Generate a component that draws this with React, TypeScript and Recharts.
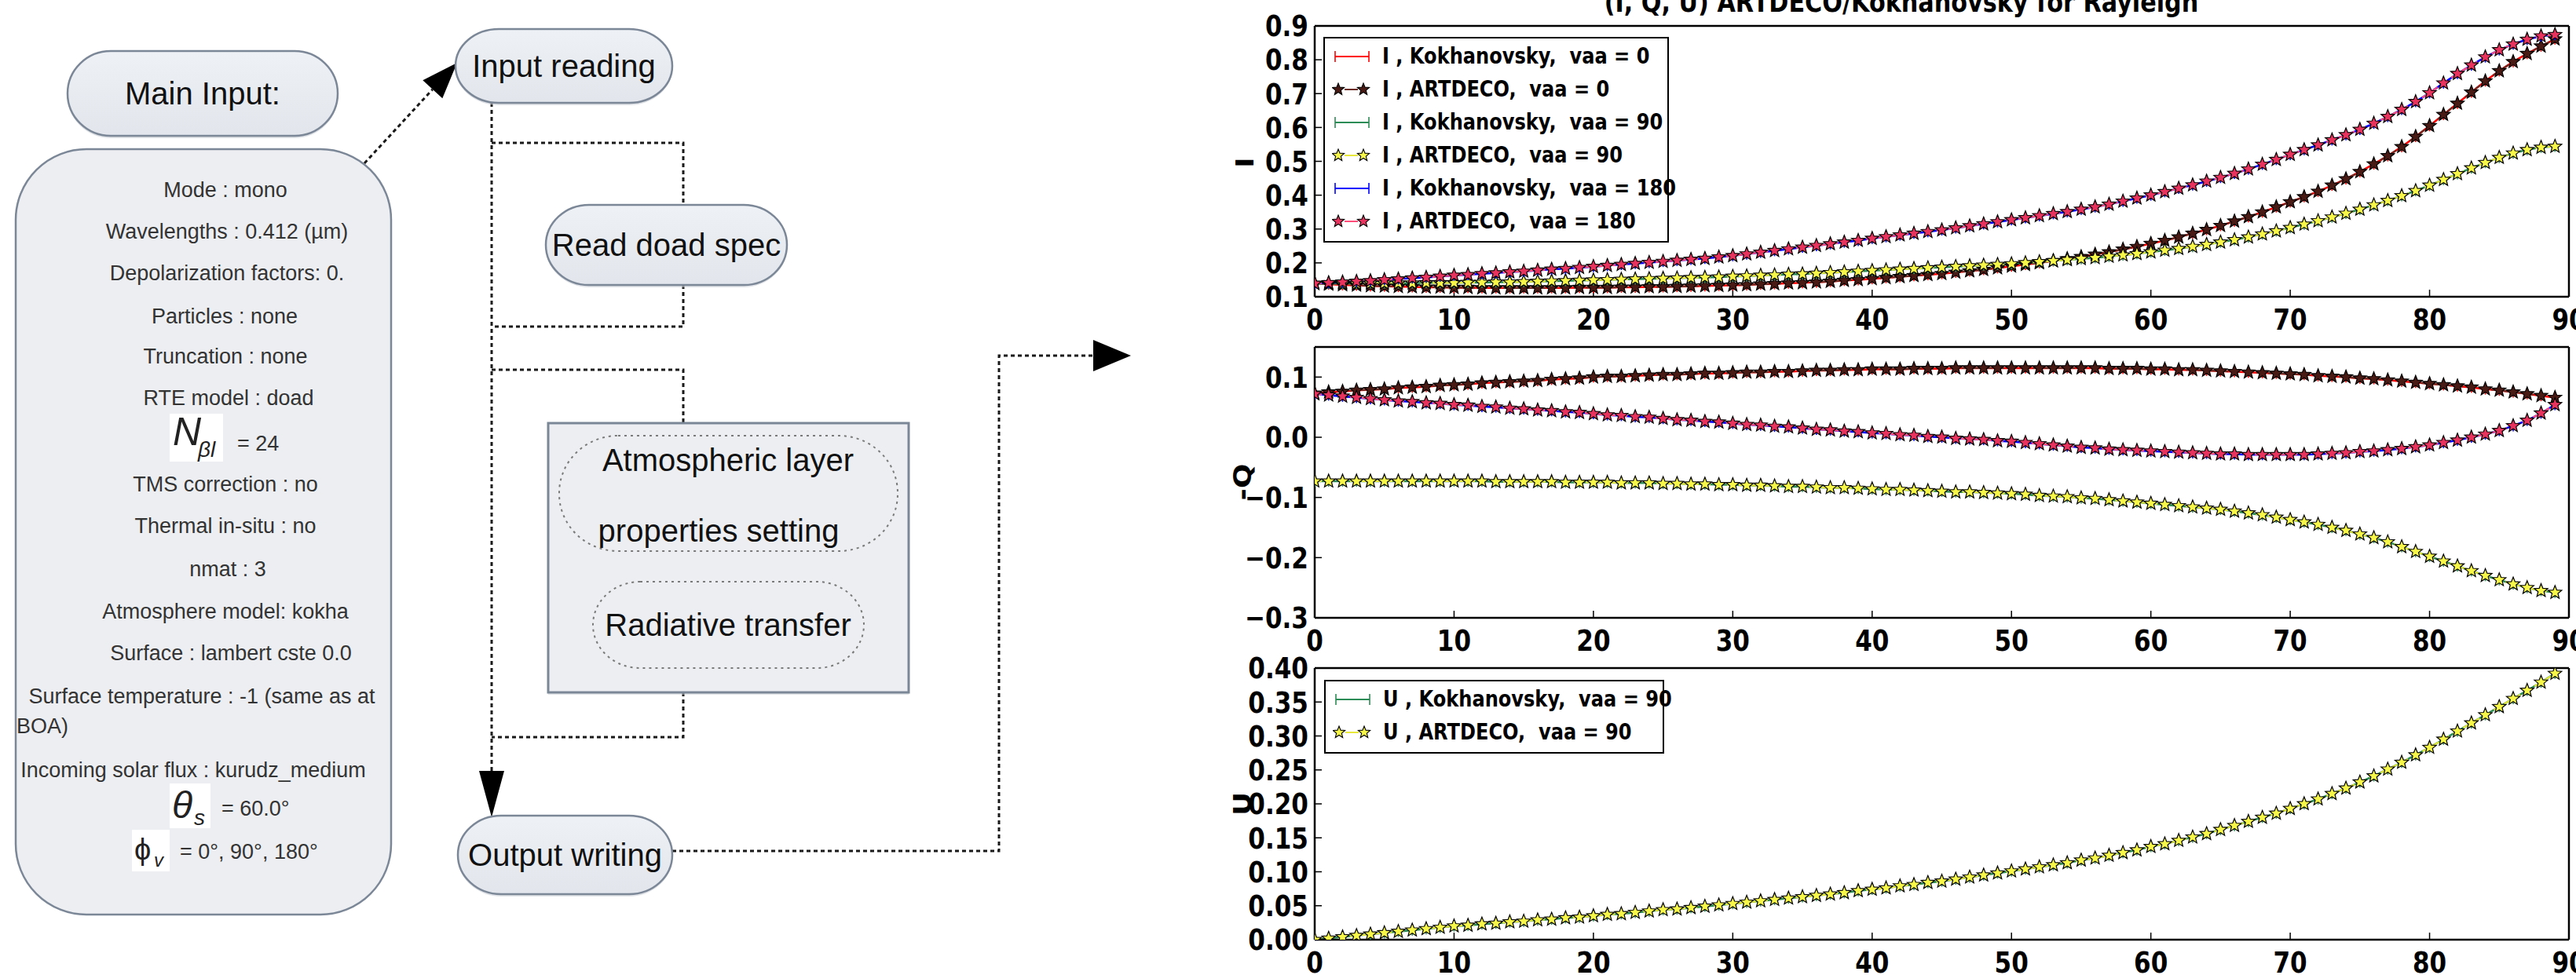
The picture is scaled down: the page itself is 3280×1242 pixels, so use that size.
import React from "react";
import { LineChart, Line, XAxis, YAxis } from "recharts";

// viewing azimuth scan, one point per degree
const ANGLES = [
  0, 1, 2, 3, 4, 5, 6, 7, 8, 9, 10, 11, 12, 13, 14, 15, 16, 17, 18, 19, 20, 21, 22, 23, 24, 25, 26, 27, 28, 29,
  30, 31, 32, 33, 34, 35, 36, 37, 38, 39, 40, 41, 42, 43, 44, 45, 46, 47, 48, 49, 50, 51, 52, 53, 54, 55, 56, 57, 58, 59,
  60, 61, 62, 63, 64, 65, 66, 67, 68, 69, 70, 71, 72, 73, 74, 75, 76, 77, 78, 79, 80, 81, 82, 83, 84, 85, 86, 87, 88, 89,
];

// Kokhanovsky and ARTDECO curves sit on top of each other in the figure, so one reading serves both
const I_VAA0 = [
  0.139, 0.137, 0.135, 0.134, 0.132, 0.131, 0.13, 0.129, 0.128, 0.128,
  0.127, 0.127, 0.126, 0.126, 0.126, 0.126, 0.126, 0.126, 0.126, 0.127,
  0.127, 0.127, 0.128, 0.128, 0.129, 0.129, 0.13, 0.131, 0.132, 0.133,
  0.134, 0.135, 0.137, 0.138, 0.14, 0.141, 0.143, 0.145, 0.148, 0.15,
  0.153, 0.156, 0.159, 0.162, 0.165, 0.168, 0.172, 0.176, 0.18, 0.185,
  0.19, 0.195, 0.2, 0.206, 0.212, 0.218, 0.225, 0.232, 0.24, 0.248,
  0.257, 0.266, 0.276, 0.287, 0.298, 0.31, 0.323, 0.336, 0.35, 0.365,
  0.38, 0.395, 0.411, 0.429, 0.448, 0.469, 0.492, 0.516, 0.543, 0.573,
  0.605, 0.638, 0.671, 0.704, 0.737, 0.767, 0.794, 0.818, 0.84, 0.861,
];
const I_VAA90 = [
  0.139, 0.139, 0.139, 0.139, 0.14, 0.14, 0.14, 0.14, 0.141, 0.141,
  0.141, 0.142, 0.142, 0.143, 0.143, 0.144, 0.145, 0.146, 0.147, 0.148,
  0.149, 0.15, 0.151, 0.152, 0.153, 0.154, 0.155, 0.156, 0.157, 0.158,
  0.16, 0.161, 0.163, 0.164, 0.166, 0.167, 0.169, 0.171, 0.173, 0.175,
  0.177, 0.179, 0.181, 0.183, 0.185, 0.187, 0.189, 0.191, 0.193, 0.195,
  0.197, 0.2, 0.203, 0.206, 0.209, 0.212, 0.215, 0.219, 0.223, 0.227,
  0.232, 0.237, 0.242, 0.248, 0.254, 0.261, 0.268, 0.276, 0.285, 0.294,
  0.304, 0.314, 0.324, 0.335, 0.346, 0.358, 0.371, 0.384, 0.398, 0.413,
  0.429, 0.446, 0.463, 0.48, 0.496, 0.511, 0.524, 0.534, 0.541, 0.544,
];
const I_VAA180 = [
  0.139, 0.141, 0.143, 0.145, 0.147, 0.15, 0.152, 0.155, 0.157, 0.16,
  0.163, 0.165, 0.168, 0.17, 0.173, 0.175, 0.178, 0.181, 0.183, 0.186,
  0.189, 0.192, 0.195, 0.198, 0.201, 0.204, 0.207, 0.21, 0.213, 0.217,
  0.221, 0.226, 0.231, 0.236, 0.241, 0.246, 0.251, 0.256, 0.261, 0.266,
  0.272, 0.277, 0.282, 0.287, 0.292, 0.297, 0.303, 0.309, 0.315, 0.321,
  0.327, 0.333, 0.339, 0.345, 0.351, 0.358, 0.365, 0.373, 0.382, 0.391,
  0.4, 0.41, 0.42, 0.43, 0.441, 0.452, 0.464, 0.477, 0.491, 0.505,
  0.52, 0.534, 0.548, 0.563, 0.578, 0.594, 0.612, 0.632, 0.653, 0.676,
  0.702, 0.731, 0.759, 0.784, 0.808, 0.829, 0.846, 0.86, 0.87, 0.874,
];

// middle panel shows -Q
const NEG_Q_VAA0 = [
  0.073, 0.075, 0.076, 0.078, 0.079, 0.08, 0.082, 0.083, 0.084, 0.086,
  0.087, 0.088, 0.09, 0.091, 0.092, 0.093, 0.094, 0.096, 0.097, 0.098,
  0.1, 0.101, 0.101, 0.102, 0.103, 0.104, 0.104, 0.105, 0.106, 0.106,
  0.107, 0.108, 0.108, 0.109, 0.109, 0.11, 0.111, 0.111, 0.112, 0.112,
  0.113, 0.113, 0.113, 0.114, 0.114, 0.114, 0.115, 0.115, 0.115, 0.115,
  0.115, 0.115, 0.115, 0.115, 0.115, 0.115, 0.115, 0.114, 0.114, 0.114,
  0.113, 0.113, 0.112, 0.112, 0.111, 0.11, 0.109, 0.108, 0.107, 0.106,
  0.105, 0.104, 0.102, 0.101, 0.1, 0.098, 0.097, 0.095, 0.093, 0.091,
  0.089, 0.087, 0.085, 0.083, 0.08, 0.078, 0.075, 0.072, 0.069, 0.066,
];
const NEG_Q_VAA90 = [
  -0.073, -0.073, -0.073, -0.073, -0.073, -0.073, -0.073, -0.073, -0.073, -0.073,
  -0.073, -0.073, -0.073, -0.074, -0.074, -0.074, -0.074, -0.074, -0.075, -0.075,
  -0.075, -0.075, -0.076, -0.076, -0.076, -0.077, -0.077, -0.078, -0.078, -0.079,
  -0.079, -0.08, -0.08, -0.081, -0.082, -0.082, -0.083, -0.084, -0.084, -0.085,
  -0.086, -0.087, -0.087, -0.088, -0.089, -0.09, -0.091, -0.091, -0.092, -0.093,
  -0.094, -0.095, -0.097, -0.098, -0.099, -0.101, -0.102, -0.104, -0.106, -0.108,
  -0.11, -0.112, -0.114, -0.116, -0.118, -0.12, -0.123, -0.126, -0.129, -0.133,
  -0.137, -0.141, -0.145, -0.15, -0.155, -0.161, -0.167, -0.174, -0.182, -0.19,
  -0.198, -0.206, -0.214, -0.222, -0.23, -0.237, -0.244, -0.25, -0.255, -0.258,
];
const NEG_Q_VAA180 = [
  0.072, 0.07, 0.068, 0.066, 0.064, 0.062, 0.06, 0.059, 0.057, 0.056,
  0.054, 0.053, 0.051, 0.05, 0.048, 0.047, 0.045, 0.044, 0.042, 0.041,
  0.039, 0.037, 0.036, 0.034, 0.033, 0.031, 0.029, 0.028, 0.026, 0.025,
  0.023, 0.021, 0.02, 0.018, 0.017, 0.015, 0.013, 0.012, 0.01, 0.009,
  0.007, 0.006, 0.004, 0.003, 0.001, 0.0, -0.002, -0.003, -0.004, -0.006,
  -0.007, -0.009, -0.011, -0.013, -0.015, -0.017, -0.018, -0.02, -0.021, -0.022,
  -0.023, -0.024, -0.025, -0.026, -0.027, -0.028, -0.028, -0.029, -0.029, -0.029,
  -0.029, -0.029, -0.028, -0.027, -0.026, -0.024, -0.023, -0.021, -0.019, -0.016,
  -0.013, -0.009, -0.005, 0.0, 0.005, 0.011, 0.019, 0.028, 0.04, 0.054,
];
const U_VAA90 = [
  0.0, 0.002, 0.004, 0.006, 0.008, 0.01, 0.012, 0.014, 0.016, 0.018,
  0.02, 0.021, 0.023, 0.024, 0.026, 0.027, 0.029, 0.03, 0.032, 0.033,
  0.035, 0.037, 0.038, 0.04, 0.042, 0.044, 0.045, 0.047, 0.049, 0.051,
  0.053, 0.055, 0.057, 0.059, 0.061, 0.063, 0.065, 0.067, 0.069, 0.072,
  0.074, 0.076, 0.079, 0.081, 0.084, 0.086, 0.089, 0.092, 0.095, 0.098,
  0.101, 0.104, 0.107, 0.11, 0.113, 0.117, 0.12, 0.124, 0.128, 0.132,
  0.137, 0.141, 0.146, 0.151, 0.156, 0.162, 0.168, 0.174, 0.18, 0.186,
  0.193, 0.2, 0.207, 0.215, 0.223, 0.232, 0.241, 0.251, 0.261, 0.272,
  0.283, 0.295, 0.307, 0.319, 0.331, 0.343, 0.355, 0.367, 0.379, 0.392,
];

const X_TICKS = [0, 10, 20, 30, 40, 50, 60, 70, 80, 90];
const I_TICKS = [0.1, 0.2, 0.3, 0.4, 0.5, 0.6, 0.7, 0.8, 0.9];
const Q_TICKS = [-0.3, -0.2, -0.1, 0, 0.1];
const U_TICKS = [0, 0.05, 0.1, 0.15, 0.2, 0.25, 0.3, 0.35, 0.4];

const TITLE = "(I, Q, U)  ARTDECO/Kokhanovsky for Rayleigh";

const iRows = ANGLES.map((a, i) => ({
  angle: a,
  k0: I_VAA0[i], a0: I_VAA0[i],
  k90: I_VAA90[i], a90: I_VAA90[i],
  k180: I_VAA180[i], a180: I_VAA180[i],
}));
const qRows = ANGLES.map((a, i) => ({
  angle: a,
  k0: NEG_Q_VAA0[i], a0: NEG_Q_VAA0[i],
  k90: NEG_Q_VAA90[i], a90: NEG_Q_VAA90[i],
  k180: NEG_Q_VAA180[i], a180: NEG_Q_VAA180[i],
}));
const uRows = ANGLES.map((a, i) => ({ angle: a, k90: U_VAA90[i], a90: U_VAA90[i] }));

const RED = "#ff0000";
const GREEN = "#2b8c55";
const BLUE = "#0000ff";
const BROWN = { line: "#6b2a22", fill: "#4a1a14" };
const YELLOW = { line: "#e8e83a", fill: "#f7f74a" };
const PINK = { line: "#ff4d7a", fill: "#e8335e" };

type S = { key: string; kind: "k" | "a"; color: string; fill?: string; label: string };

const I_SERIES: S[] = [
  { key: "k0", kind: "k", color: RED, label: "I , Kokhanovsky,  vaa = 0" },
  { key: "a0", kind: "a", color: BROWN.line, fill: BROWN.fill, label: "I , ARTDECO,  vaa = 0" },
  { key: "k90", kind: "k", color: GREEN, label: "I , Kokhanovsky,  vaa = 90" },
  { key: "a90", kind: "a", color: YELLOW.line, fill: YELLOW.fill, label: "I , ARTDECO,  vaa = 90" },
  { key: "k180", kind: "k", color: BLUE, label: "I , Kokhanovsky,  vaa = 180" },
  { key: "a180", kind: "a", color: PINK.line, fill: PINK.fill, label: "I , ARTDECO,  vaa = 180" },
];
const Q_SERIES: S[] = I_SERIES.map((s) => ({ ...s, label: s.label.replace("I ,", "Q ,") }));
const U_SERIES: S[] = [
  { key: "k90", kind: "k", color: GREEN, label: "U , Kokhanovsky,  vaa = 90" },
  { key: "a90", kind: "a", color: YELLOW.line, fill: YELLOW.fill, label: "U , ARTDECO,  vaa = 90" },
];

const PLOT_FONT = "'DejaVu Sans', 'Bitstream Vera Sans', sans-serif";
const FLOW_FONT = "'Liberation Sans', Arial, sans-serif";
const SQ = 0.84; // the figure was squeezed horizontally
const STAR_R = 9;
const STAR_r = 3.9;

function starPath(cx: number, cy: number, R: number, r: number) {
  const pts: string[] = [];
  for (let k = 0; k < 10; k++) {
    const rad = k % 2 === 0 ? R : r;
    const a = -Math.PI / 2 + (k * Math.PI) / 5;
    pts.push(`${(cx + rad * Math.cos(a)).toFixed(2)},${(cy + rad * Math.sin(a)).toFixed(2)}`);
  }
  return `M${pts.join("L")}Z`;
}

const starDot = (fill: string) => (p: any) =>
  p.cx == null ? <g key={p.index} /> : (
    <path key={p.index} d={starPath(p.cx, p.cy, STAR_R, STAR_r)} fill={fill} stroke="#000" strokeWidth={1.2} />
  );

const barDot = (color: string) => (p: any) =>
  p.cx == null ? <g key={p.index} /> : (
    <line key={p.index} x1={p.cx} x2={p.cx} y1={p.cy - 7} y2={p.cy + 7} stroke={color} strokeWidth={1.6} />
  );

const yTick = (fmt: (v: number) => string) => (p: any) => (
  <text
    transform={`translate(${p.x},${p.y}) scale(${SQ},1)`}
    textAnchor="end"
    dy="0.36em"
    fontFamily={PLOT_FONT}
    fontWeight="bold"
    fontSize={37}
    fill="#000"
  >
    {fmt(p.payload.value)}
  </text>
);

const xTick = (p: any) => (
  <text
    transform={`translate(${p.x},${p.y + 42}) scale(${SQ},1)`}
    textAnchor="middle"
    fontFamily={PLOT_FONT}
    fontWeight="bold"
    fontSize={37}
    fill="#000"
  >
    {p.payload.value}
  </text>
);

const AXIS_LINE = { stroke: "#000", strokeWidth: 2.5 };
const TICK_LINE = { stroke: "#000", strokeWidth: 1.5 };

function Panel(props: {
  rows: any[];
  series: S[];
  domain: [number, number];
  ticks: number[];
  fmt: (v: number) => string;
  top: number;
  height: number;
  margin: { top: number; right: number; bottom: number; left: number };
  xHeight: number;
}) {
  const { rows, series, domain, ticks, fmt, top, height, margin, xHeight } = props;
  return (
    <div style={{ position: "absolute", left: 1500, top, width: 1780, height }}>
      <LineChart width={1780} height={height} data={rows} margin={margin}>
        <XAxis
          xAxisId="b"
          dataKey="angle"
          type="number"
          domain={[0, 90]}
          ticks={X_TICKS}
          interval={0}
          allowDataOverflow
          height={xHeight}
          tickSize={-9}
          tickMargin={9}
          axisLine={AXIS_LINE}
          tickLine={TICK_LINE}
          tick={xTick}
        />
        <XAxis
          xAxisId="t"
          orientation="top"
          type="number"
          domain={[0, 90]}
          ticks={X_TICKS}
          interval={0}
          allowDataOverflow
          height={1}
          tickSize={-9}
          axisLine={AXIS_LINE}
          tickLine={TICK_LINE}
          tick={false}
        />
        <YAxis
          yAxisId="l"
          type="number"
          domain={domain}
          ticks={ticks}
          interval={0}
          allowDataOverflow
          width={166}
          tickSize={-9}
          tickMargin={17}
          axisLine={AXIS_LINE}
          tickLine={TICK_LINE}
          tick={yTick(fmt)}
        />
        <YAxis
          yAxisId="r"
          orientation="right"
          type="number"
          domain={domain}
          ticks={ticks}
          interval={0}
          allowDataOverflow
          width={1}
          tickSize={-9}
          axisLine={AXIS_LINE}
          tickLine={TICK_LINE}
          tick={false}
        />
        {series.map((s) => (
          <Line
            key={s.key}
            xAxisId="b"
            yAxisId="l"
            type="linear"
            dataKey={s.key}
            stroke={s.color}
            strokeWidth={s.kind === "a" ? 2.2 : 2.6}
            strokeDasharray={s.kind === "a" ? "9 6" : undefined}
            dot={s.kind === "a" ? starDot(s.fill as string) : barDot(s.color)}
            activeDot={false}
            isAnimationActive={false}
          />
        ))}
      </LineChart>
    </div>
  );
}

function Handle({ s }: { s: S }) {
  return (
    <svg width={52} height={22} style={{ position: "absolute", left: 9, top: 10 }}>
      {s.kind === "k" ? (
        <g stroke={s.color}>
          <line x1={4} x2={47} y1={11} y2={11} strokeWidth={2} />
          <line x1={4} x2={4} y1={4} y2={18} strokeWidth={1.6} />
          <line x1={47} x2={47} y1={4} y2={18} strokeWidth={1.6} />
        </g>
      ) : (
        <g>
          <line x1={16} x2={33} y1={11} y2={11} stroke={s.color} strokeWidth={2} />
          <path d={starPath(8, 11, STAR_R - 1, STAR_r - 0.4)} fill={s.fill} stroke="#000" strokeWidth={1.1} />
          <path d={starPath(40, 11, STAR_R - 1, STAR_r - 0.4)} fill={s.fill} stroke="#000" strokeWidth={1.1} />
        </g>
      )}
    </svg>
  );
}

function Legend({ series, left, top, width }: { series: S[]; left: number; top: number; width: number }) {
  return (
    <div
      style={{
        position: "absolute",
        left,
        top,
        width,
        height: series.length * 42 + 10,
        boxSizing: "border-box",
        border: "2px solid #000",
        background: "#fff",
      }}
    >
      {series.map((s, i) => (
        <div key={s.key} style={{ position: "absolute", left: 0, top: 2 + i * 42, height: 42, width: "100%" }}>
          <Handle s={s} />
          <span
            style={{
              position: "absolute",
              left: 73,
              top: 0,
              lineHeight: "42px",
              fontFamily: PLOT_FONT,
              fontWeight: "bold",
              fontSize: 28,
              whiteSpace: "pre",
              transform: `scaleX(${SQ + 0.02})`,
              transformOrigin: "left center",
              color: "#000",
            }}
          >
            {s.label}
          </span>
        </div>
      ))}
    </div>
  );
}

function Arrow({ from, tip, len, half }: { from: [number, number]; tip: [number, number]; len: number; half: number }) {
  const dx = tip[0] - from[0];
  const dy = tip[1] - from[1];
  const d = Math.hypot(dx, dy);
  const ux = dx / d;
  const uy = dy / d;
  const bx = tip[0] - ux * len;
  const by = tip[1] - uy * len;
  const pts = [
    [tip[0], tip[1]],
    [bx - uy * half, by + ux * half],
    [bx + uy * half, by - ux * half],
  ];
  return (
    <g>
      <line x1={from[0]} y1={from[1]} x2={bx} y2={by} stroke="#1a1a1a" strokeWidth={3} strokeDasharray="5 4" />
      <polygon points={pts.map((p) => p.join(",")).join(" ")} fill="#000" />
    </g>
  );
}

const INPUT_LINES: { t: string; x: number; y: number; anchor?: "start" | "middle" }[] = [
  { t: "Mode : mono", x: 287, y: 251 },
  { t: "Wavelengths : 0.412 (µm)", x: 289, y: 304 },
  { t: "Depolarization factors: 0.", x: 289, y: 357 },
  { t: "Particles : none", x: 286, y: 412 },
  { t: "Truncation : none", x: 287, y: 463 },
  { t: "RTE model : doad", x: 291, y: 516 },
  { t: "TMS correction : no", x: 287, y: 626 },
  { t: "Thermal in-situ : no", x: 287, y: 679 },
  { t: "nmat : 3", x: 290, y: 734 },
  { t: "Atmosphere model:  kokha", x: 287, y: 788 },
  { t: "Surface : lambert cste 0.0", x: 294, y: 841 },
  { t: "Surface temperature : -1 (same as at", x: 257, y: 896 },
  { t: "BOA)", x: 21, y: 934, anchor: "start" },
  { t: "Incoming solar flux : kurudz_medium", x: 246, y: 990 },
];

function Pill({ x, y, w, h, label }: { x: number; y: number; w: number; h: number; label: string }) {
  return (
    <g>
      <rect x={x} y={y + 3} width={w} height={h} rx={55} ry={h / 2} fill="#c9ced6" opacity={0.6} />
      <rect x={x} y={y} width={w} height={h} rx={55} ry={h / 2} fill="url(#pillFill)" stroke="#7b8797" strokeWidth={2.5} />
      <text x={x + w / 2} y={y + h / 2 + 14} textAnchor="middle" fontFamily={FLOW_FONT} fontSize={40} fill="#111">
        {label}
      </text>
    </g>
  );
}

const DOT = { stroke: "#1a1a1a", strokeWidth: 3, strokeDasharray: "5 4", fill: "none" };

function Flowchart() {
  return (
    <svg width={1500} height={1242} style={{ position: "absolute", left: 0, top: 0 }}>
      <defs>
        <linearGradient id="pillFill" x1="0" y1="0" x2="0" y2="1">
          <stop offset="0" stopColor="#eef1f5" />
          <stop offset="1" stopColor="#e2e6ec" />
        </linearGradient>
      </defs>

      {/* main input block */}
      <Pill x={86} y={65} w={344} h={108} label="Main Input:" />
      <rect x={20} y={190} width={478} height={975} rx={90} ry={90} fill="#eceef1" stroke="#7b8797" strokeWidth={2.5} />
      {INPUT_LINES.map((l) => (
        <text key={l.t} x={l.x} y={l.y} textAnchor={l.anchor || "middle"} fontFamily={FLOW_FONT} fontSize={27} fill="#333">
          {l.t}
        </text>
      ))}
      <rect x={216} y={527} width={68} height={61} fill="#fff" />
      <text x={220} y={567} fontFamily={FLOW_FONT} fontStyle="italic" fontSize={50} fill="#222">N</text>
      <text x={252} y={582} fontFamily={FLOW_FONT} fontStyle="italic" fontSize={28} fill="#222">βl</text>
      <text x={302} y={574} fontFamily={FLOW_FONT} fontSize={27} fill="#333">{"=  24"}</text>
      <rect x={216} y={998} width={52} height={57} fill="#fff" />
      <text x={219} y={1042} fontFamily={FLOW_FONT} fontStyle="italic" fontSize={48} fill="#222">θ</text>
      <text x={247} y={1051} fontFamily={FLOW_FONT} fontStyle="italic" fontSize={28} fill="#222">s</text>
      <text x={282} y={1039} fontFamily={FLOW_FONT} fontSize={27} fill="#333">= 60.0°</text>
      <rect x={168} y={1057} width={48} height={53} fill="#fff" />
      <text x={171} y={1095} fontFamily={FLOW_FONT} fontSize={38} fill="#222">ϕ</text>
      <text x={196} y={1104} fontFamily={FLOW_FONT} fontStyle="italic" fontSize={24} fill="#222">v</text>
      <text x={229} y={1094} fontFamily={FLOW_FONT} fontSize={27} fill="#333">{"=  0°, 90°, 180°"}</text>

      {/* connectors */}
      <Arrow from={[464, 208]} tip={[582, 80]} len={46} half={17} />
      <path d="M626 131 V984" {...DOT} />
      <polygon points="610,982 642,982 626,1041" fill="#000" />
      <path d="M626 182 H870 V261" {...DOT} />
      <path d="M870 363 V416 H626" {...DOT} />
      <path d="M626 471 H870 V539" {...DOT} />
      <path d="M870 882 V939 H626" {...DOT} />
      <path d="M856 1084 H1272 V453 H1392" {...DOT} />
      <polygon points="1392,433 1392,473 1440,453" fill="#000" />

      {/* steps */}
      <Pill x={580} y={37} w={276} h={94} label="Input reading" />
      <Pill x={695} y={261} w={307} h={102} label="Read doad spec" />
      <rect x={698} y={542} width={459} height={343} fill="#c9ced6" opacity={0.5} />
      <rect x={698} y={539} width={459} height={343} fill="#eceef1" stroke="#7b8797" strokeWidth={3} />
      <rect x={712} y={555} width={431} height={147} rx={75} ry={73} fill="none" stroke="#7a7a7a" strokeWidth={2} strokeDasharray="3 5" />
      <text x={927} y={600} textAnchor="middle" fontFamily={FLOW_FONT} fontSize={40} fill="#111">Atmospheric layer</text>
      <text x={915} y={690} textAnchor="middle" fontFamily={FLOW_FONT} fontSize={40} fill="#111">properties setting</text>
      <rect x={755} y={741} width={345} height={110} rx={60} ry={55} fill="none" stroke="#7a7a7a" strokeWidth={2} strokeDasharray="3 5" />
      <text x={927} y={810} textAnchor="middle" fontFamily={FLOW_FONT} fontSize={40} fill="#111">Radiative transfer</text>
      <Pill x={583} y={1039} w={273} h={100} label="Output writing" />
    </svg>
  );
}

function Overlay() {
  const lab = (t: string, x: number, y: number) => (
    <text
      transform={`translate(${x},${y}) rotate(-90) scale(1,${SQ})`}
      textAnchor="middle"
      dy="0.36em"
      fontFamily={PLOT_FONT}
      fontWeight="bold"
      fontSize={37}
      fill="#000"
    >
      {t}
    </text>
  );
  return (
    <svg width={3280} height={1242} style={{ position: "absolute", left: 0, top: 0, pointerEvents: "none" }}>
      <text
        transform={`translate(2421,15) scale(${SQ},1)`}
        textAnchor="middle"
        fontFamily={PLOT_FONT}
        fontWeight="bold"
        fontSize={36}
        fill="#000"
      >
        {TITLE}
      </text>
      {lab("I", 1585, 207)}
      {lab("-Q", 1582, 614)}
      {lab("U", 1582, 1024)}
    </svg>
  );
}

const f1 = (v: number) => (v < 0 ? "\u2212" + Math.abs(v).toFixed(1) : v.toFixed(1));
const f2 = (v: number) => v.toFixed(2);

export default function App() {
  return (
    <div
      style={{
        position: "absolute",
        left: 0,
        top: 0,
        width: 3280,
        height: 1242,
        background: "#fff",
        overflow: "hidden",
      }}
    >
      <Flowchart />
      <Panel
        rows={iRows}
        series={I_SERIES}
        domain={[0.1, 0.9]}
        ticks={I_TICKS}
        fmt={f1}
        top={0}
        height={440}
        margin={{ top: 32, right: 8, bottom: 12, left: 8 }}
        xHeight={50}
      />
      <Panel
        rows={qRows}
        series={Q_SERIES}
        domain={[-0.3, 0.15]}
        ticks={Q_TICKS}
        fmt={f1}
        top={400}
        height={440}
        margin={{ top: 41, right: 8, bottom: 3, left: 8 }}
        xHeight={50}
      />
      <Panel
        rows={uRows}
        series={U_SERIES}
        domain={[0, 0.4]}
        ticks={U_TICKS}
        fmt={f2}
        top={800}
        height={442}
        margin={{ top: 50, right: 8, bottom: 5, left: 8 }}
        xHeight={40}
      />
      <Legend series={I_SERIES} left={1685} top={47} width={440} />
      <Legend series={U_SERIES} left={1686} top={866} width={433} />
      <Overlay />
    </div>
  );
}
